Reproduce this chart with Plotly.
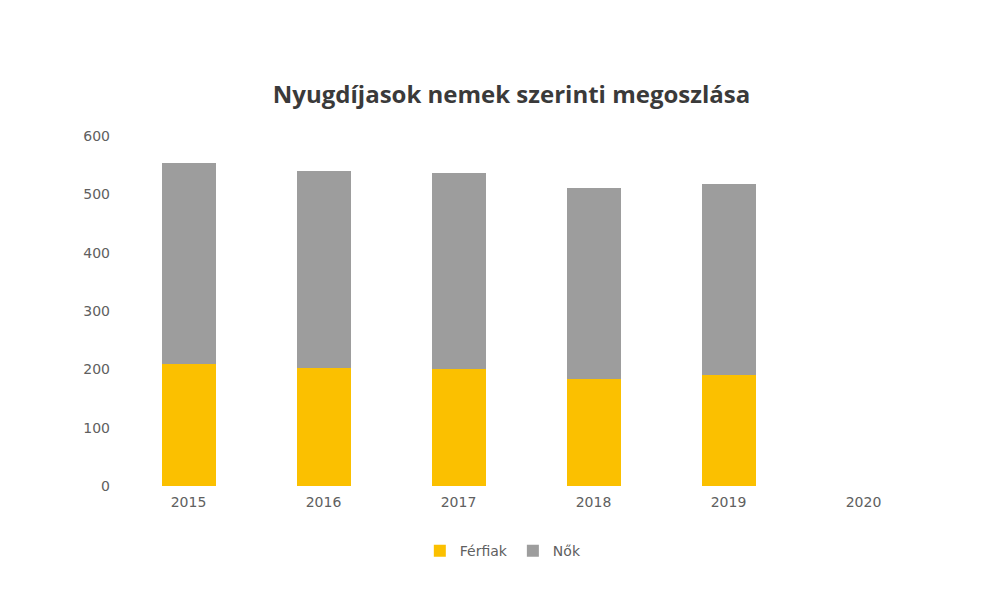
import plotly.graph_objects as go

years = ["2015", "2016", "2017", "2018", "2019", "2020"]
ferfiak = [210, 202, 200, 183, 190, None]
nok = [343, 338, 337, 328, 328, None]
y_ticks = [0, 100, 200, 300, 400, 500, 600]

fig = go.Figure()
fig.add_trace(go.Bar(name="Férfiak", x=years, y=ferfiak, marker_color="#FBC000",
                     marker_line_width=0))
fig.add_trace(go.Bar(name="Nők", x=years, y=nok, marker_color="#9D9D9D",
                     marker_line_width=0))

fig.update_layout(
    barmode="stack",
    bargap=0.6,
    width=1007, height=610,
    paper_bgcolor="white", plot_bgcolor="white",
    margin=dict(l=113, r=84, t=128, b=132),
    title=dict(text="<b>Nyugdíjasok nemek szerinti megoszlása</b>",
               x=0.5, xanchor="center", y=1 - 87 / 610, yanchor="middle",
               font=dict(family="Open Sans", size=24, color="#3a3a3a")),
    font=dict(family="DejaVu Sans", size=14, color="#606060"),
    showlegend=True,
    legend=dict(orientation="h", x=0.472, xanchor="center", y=-0.186, yanchor="middle",
                font=dict(family="DejaVu Sans", size=14, color="#606060"),
                traceorder="normal", itemwidth=30),
    xaxis=dict(showgrid=False, showline=False, ticks="", tickfont=dict(size=14),
               ticklabelstandoff=6),
    yaxis=dict(range=[0, 600], tickvals=y_ticks, showgrid=False, zeroline=False,
               showline=False, ticks="", tickfont=dict(size=14), ticklabelstandoff=10),
)

fig.write_html("out.html")
